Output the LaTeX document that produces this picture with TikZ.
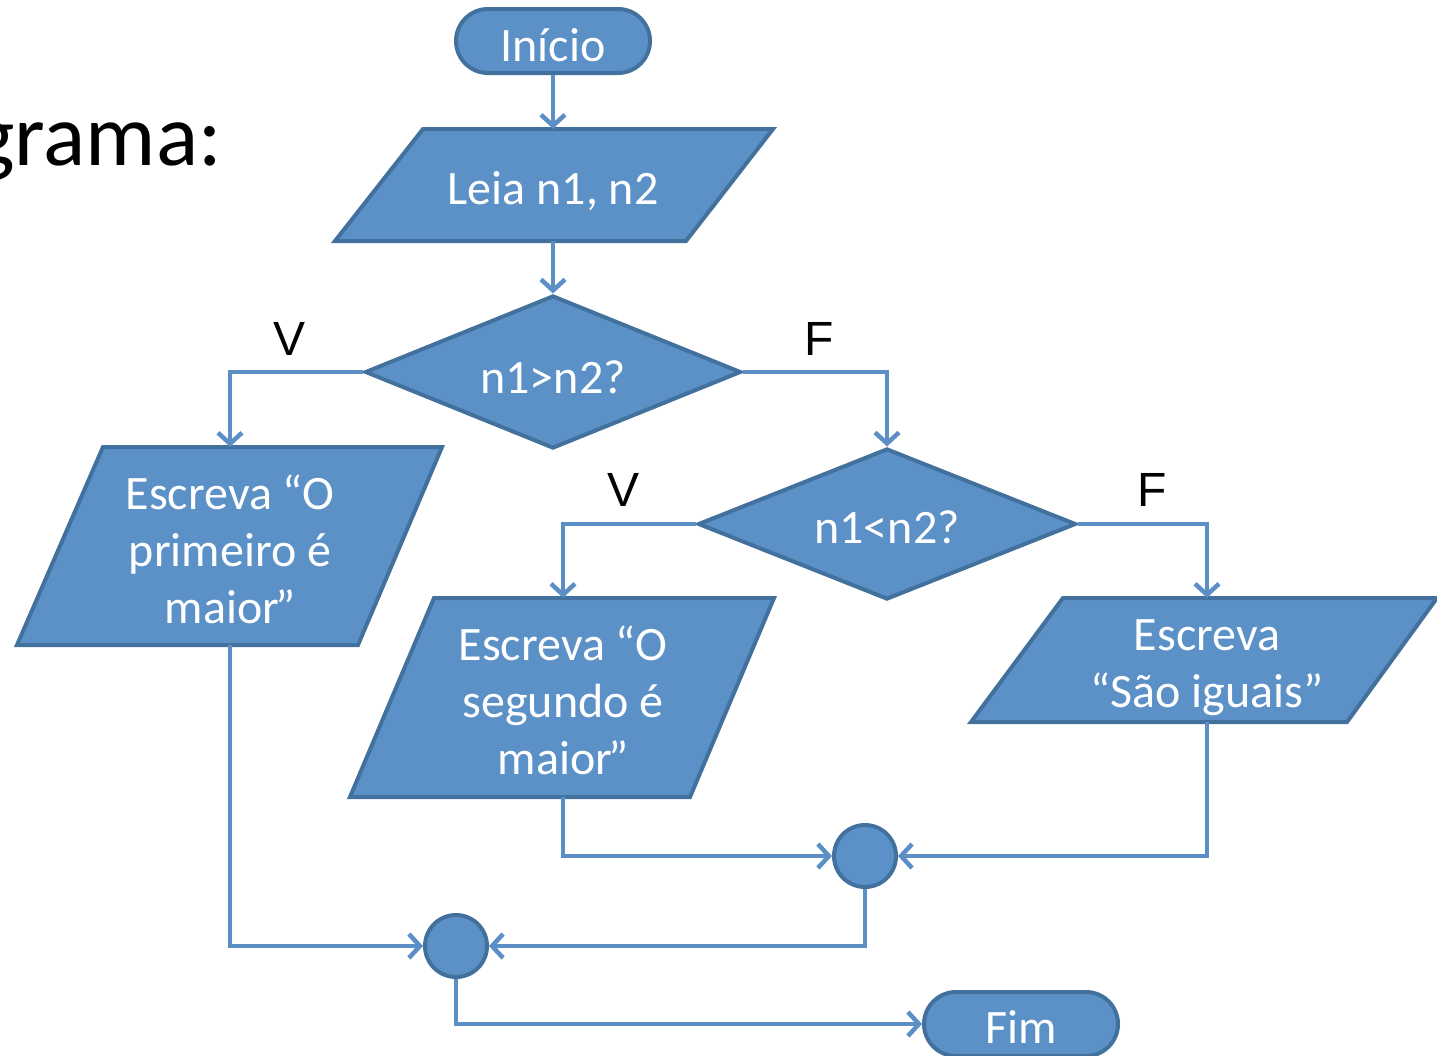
\documentclass[tikz,border=0pt]{standalone}
\usepackage{fontspec}
\setmainfont{Carlito}
\newfontfamily\labfont{Liberation Sans}
\usetikzlibrary{shapes.geometric,shapes.misc,arrows.meta}
\definecolor{boxfill}{RGB}{92,145,200}
\definecolor{boxline}{RGB}{66,113,157}
\definecolor{linecol}{RGB}{91,143,198}
\tikzset{
  shapebase/.style={fill=boxfill, draw=boxline, line width=4pt},
  txt/.style={text=white, font=\fontsize{48}{57}\selectfont, align=center, inner sep=0pt},
  tx/.style 2 args={label={[txt,yshift=-#1pt]center:{#2}}},
  term/.style={shapebase, rounded rectangle, minimum width=194pt, minimum height=64pt, inner sep=0pt},
  decis/.style={shapebase, diamond, aspect=2.46, inner sep=0pt},
  joint/.style={shapebase, circle, minimum size=62pt, inner sep=0pt},
  io/.style={shapebase, line join=miter},
  iobox/.style={inner sep=0pt},
  arrowline/.style={draw=linecol, line width=4.5pt, -{Straight Barb[length=11pt,width=24pt]}},
  lab/.style={font=\labfont\fontsize{48}{57}\selectfont, text=black, anchor=base},
}
\begin{document}
\begin{tikzpicture}[x=1pt,y=-1pt]
\useasboundingbox (0,0) rectangle (1437,1055);
% title fragment
\node[font=\fontsize{88}{100}\selectfont, anchor=base east, inner sep=0pt] (title) at (222,165) {grama:};
% terminals
\node[term, tx={4}{Início}] (inicio) at (553,41) {};
\node[term, tx={3}{Fim}] (fim) at (1021,1024) {};
% read
\filldraw[io] (423,129) -- (773,129) -- (686,241) -- (335,241) -- cycle;
\node[iobox, minimum width=350pt, minimum height=112pt, tx={6}{Leia n1, n2}] (leia) at (553,185) {};
% decision 1
\node[decis, minimum width=376pt, minimum height=153pt, tx={5}{n1>n2?}] (d1) at (553,372) {};
% output left
\filldraw[io] (103,447) -- (442,447) -- (358,645) -- (17,645) -- cycle;
\node[iobox, minimum width=300pt, minimum height=198pt, tx={3}{Escreva “O\\primeiro é\\maior\kern-4pt”}] (p1) at (230,546) {};
% decision 2
\node[decis, minimum width=378pt, minimum height=151pt, tx={3}{n1<n2?}] (d2) at (887,524) {};
% output middle
\filldraw[io] (434,598) -- (774,598) -- (690,797) -- (350,797) -- cycle;
\node[iobox, minimum width=300pt, minimum height=199pt, tx={3}{Escreva “O\\segundo é\\maior\kern-4pt”}] (p2) at (563,697.5) {};
% output right
\filldraw[io] (1063,598) -- (1437,598) -- (1347,722) -- (971,722) -- cycle;
\node[iobox, minimum width=300pt, minimum height=124pt, tx={8}{Escreva\\“São iguais”}] (p3) at (1207,660) {};
% junctions
\node[joint] (j1) at (865,856) {};
\node[joint] (j2) at (456,946) {};
% labels
\node[lab] (v1) at (290,355) {V};
\node[lab] (f1) at (819,355) {F};
\node[lab] (v2) at (623,506) {V};
\node[lab] (f2) at (1152,506) {F};
% connectors
\draw[arrowline] (inicio.south) -- (leia.north);
\draw[arrowline] (leia.south) -- (d1.north);
\draw[arrowline] (d1.west) -| (p1.north);
\draw[arrowline] (d1.east) -| (d2.north);
\draw[arrowline] (d2.west) -| (p2.north);
\draw[arrowline] (d2.east) -| (p3.north);
\draw[arrowline] (p2.south) |- (j1.west);
\draw[arrowline] (p3.south) |- (j1.east);
\draw[arrowline] (p1.south) |- (j2.west);
\draw[arrowline] (j1.south) |- (j2.east);
\draw[arrowline] (j2.south) |- (fim.west);
\end{tikzpicture}
\end{document}
